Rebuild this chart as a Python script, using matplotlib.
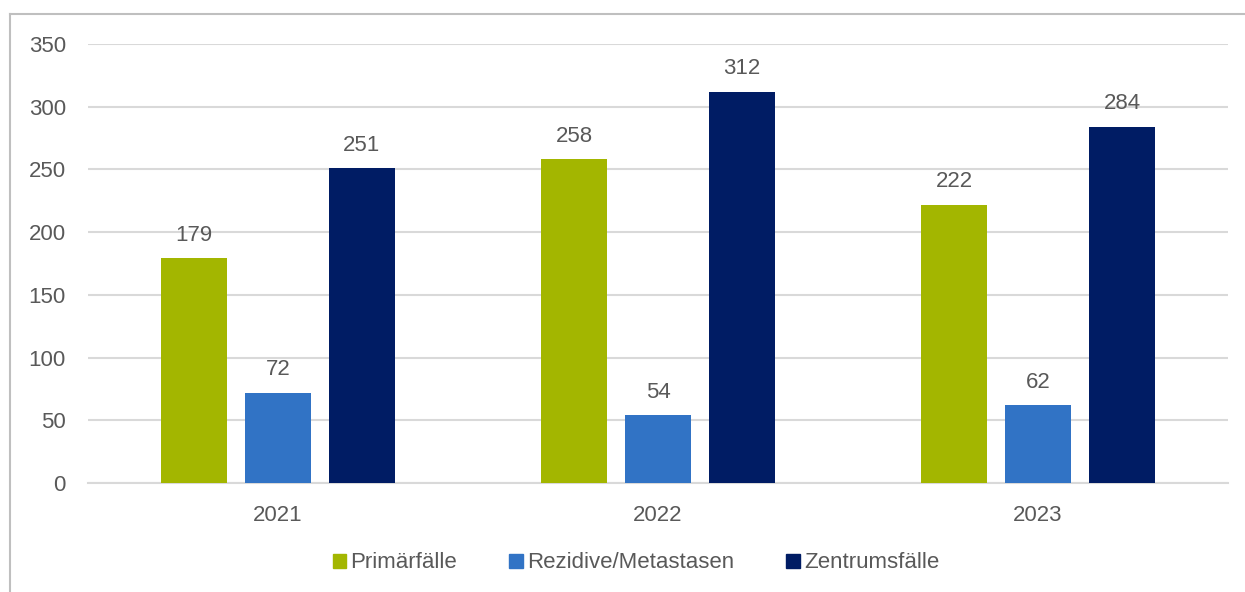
import matplotlib
matplotlib.use("Agg")
import matplotlib.pyplot as plt
import numpy as np
from matplotlib.lines import Line2D
from matplotlib.patches import Patch

plt.rcParams["font.family"] = ["Liberation Sans", "DejaVu Sans"]

YEARS = ["2021", "2022", "2023"]
SERIES = ["Primärfälle", "Rezidive/Metastasen", "Zentrumsfälle"]
PRIMAER = [179, 258, 222]
REZIDIVE = [72, 54, 62]
ZENTRUM = [251, 312, 284]
COLORS = ["#A3B600", "#3173C5", "#001C64"]

TEXT = "#595959"
GRID = "#D9D9D9"
FS = 16

fig = plt.figure(figsize=(12.45, 5.92), dpi=100)
ax = fig.add_axes([88 / 1245, 1 - 483 / 592, 1140 / 1245, 439 / 592])

x = np.arange(len(YEARS))
width = 0.174
step = 0.221
for i, (vals, col) in enumerate(zip([PRIMAER, REZIDIVE, ZENTRUM], COLORS)):
    bars = ax.bar(x + (i - 1) * step, vals, width, color=col, zorder=3)
    for b, v in zip(bars, vals):
        ax.annotate(str(v), (b.get_x() + b.get_width() / 2, v),
                    xytext=(0, 9), textcoords="offset points",
                    ha="center", va="bottom", fontsize=FS, color=TEXT)

ax.set_xlim(-0.5, 2.5)
ax.set_ylim(0, 350)
ax.set_yticks(range(0, 351, 50))
ax.set_xticks(x)
ax.set_xticklabels(YEARS)
ax.yaxis.grid(True, color=GRID, linewidth=1.5, zorder=0)
ax.tick_params(axis="both", length=0, labelsize=FS, colors=TEXT)
ax.tick_params(axis="y", pad=16)
ax.tick_params(axis="x", pad=16)
for s in ["top", "right", "left"]:
    ax.spines[s].set_visible(False)
ax.spines["bottom"].set_color(GRID)
ax.spines["bottom"].set_linewidth(1.5)

handles = [Patch(color=c) for c in COLORS]
fig.legend(handles, SERIES, loc="center", bbox_to_anchor=(636 / 1245, 1 - 563 / 592),
           ncol=3, frameon=False, fontsize=FS, labelcolor=TEXT,
           handlelength=0.6, handleheight=0.6, handletextpad=0.2, columnspacing=2.35)

# chart frame (left and top edges visible)
fig.add_artist(Line2D([10 / 1245, 10 / 1245], [0, 1 - 14 / 592], transform=fig.transFigure,
                      color="#BFBFBF", linewidth=1.5))
fig.add_artist(Line2D([10 / 1245, 1], [1 - 14 / 592, 1 - 14 / 592], transform=fig.transFigure,
                      color="#BFBFBF", linewidth=1.5))

fig.savefig("out.png", dpi=100)
